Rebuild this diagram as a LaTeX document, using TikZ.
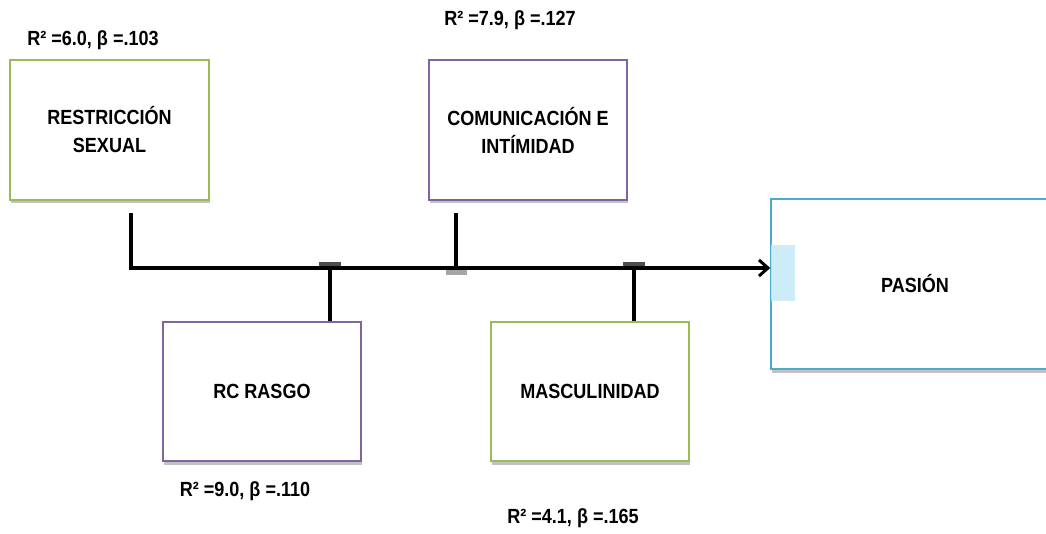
\documentclass[tikz,border=0pt]{standalone}
\usepackage{fontspec}
\setmainfont{Liberation Sans}
\newfontfamily\narrowsans[FakeStretch=0.88]{Liberation Sans}
\usetikzlibrary{arrows.meta,shadows}
\definecolor{bgreen}{HTML}{9BBB59}
\definecolor{bpurple}{HTML}{8064A2}
\definecolor{bblue}{HTML}{4BACC6}
\definecolor{patch}{HTML}{C4EAF6}
\begin{document}
\begin{tikzpicture}[x=1pt,y=-1pt,
  txt/.style={font=\narrowsans\bfseries\fontsize{20.5}{28}\selectfont},
  box/.style={txt, draw, line width=1.5pt, fill=white, inner sep=0pt, align=center,
    drop shadow={shadow xshift=1pt, shadow yshift=-3.5pt, opacity=0.4, fill=black!60}},
  conn/.style={line width=3.4pt, black},
  jcap/.style={fill=black!70, draw=none},
  lbl/.style={txt, inner sep=0pt}]
\useasboundingbox (0,0) rectangle (1046,534);

% boxes
\node[box, draw=bgreen, minimum width=199pt, minimum height=140pt] (rs) at (109.5,130) {RESTRICCIÓN\\SEXUAL};
\node[box, draw=bpurple, minimum width=198pt, minimum height=140pt] (ci) at (528,130) {COMUNICACIÓN E\\INTÍMIDAD};
\node[box, draw=bpurple, minimum width=198pt, minimum height=139pt] (rc) at (262,391.5) {RC RASGO};
\node[box, draw=bgreen, minimum width=198pt, minimum height=139pt] (ma) at (590,391.5) {MASCULINIDAD};
\node[box, draw=bblue, minimum width=288pt, minimum height=170pt] (pa) at (915,284) {PASIÓN};
\fill[patch, opacity=0.85] (771,245) rectangle (795,301);

% labels
\node[lbl] (l1) at (93,40) {R² =6.0, β =.103};
\node[lbl] (l2) at (510,20) {R² =7.9, β =.127};
\node[lbl] (l3) at (245,491) {R² =9.0, β =.110};
\node[lbl] (l4) at (573,518) {R² =4.1, β =.165};

% coordinates of the connector system
\coordinate (rsdrop) at (131,213);
\coordinate (corner) at (131,268);
\coordinate (cidrop) at (456,213);
\coordinate (cij) at (456,268);
\coordinate (rcj) at (330,268);
\coordinate (maj) at (634,268);

% junction caps
\fill[jcap] (319,262) rectangle (341,267);
\fill[jcap, fill=black!35] (446,268) rectangle (467,275);
\fill[jcap] (623,262) rectangle (645,267);

% connectors
\draw[conn, -{Straight Barb[length=9pt,width=16pt,line width=3pt]}] (rsdrop) -- (corner) -- (pa.west |- corner);
\draw[conn] (cidrop) -- (cij);
\draw[conn] (rcj) -- (rc.north -| rcj);
\draw[conn] (maj) -- (ma.north -| maj);
\end{tikzpicture}
\end{document}
